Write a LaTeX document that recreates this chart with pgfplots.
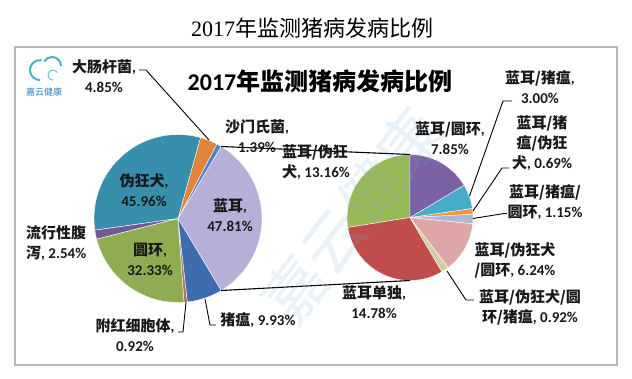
\documentclass[border=0pt]{standalone}
\usepackage{pgfplots}
\pgfplotsset{compat=1.18}
\usepackage{pgfplotstable}
\usepackage{fontspec}
\setmainfont{Carlito}
\newfontfamily\cjk{Noto Sans CJK SC}
\newfontfamily\sernum{Liberation Serif}

\definecolor{cLE}{RGB}{182,176,216}
\definecolor{cSM}{RGB}{85,130,195}
\definecolor{cDC}{RGB}{224,132,58}
\definecolor{cWK}{RGB}{56,143,172}
\definecolor{cLX}{RGB}{112,90,150}
\definecolor{cYH}{RGB}{143,172,82}
\definecolor{cFH}{RGB}{170,120,80}
\definecolor{cZW}{RGB}{63,108,175}
\definecolor{sRH}{RGB}{124,98,162}
\definecolor{sRZ}{RGB}{72,172,200}
\definecolor{sRZW}{RGB}{240,150,70}
\definecolor{sRZY}{RGB}{176,182,212}
\definecolor{sRWY}{RGB}{222,166,166}
\definecolor{sRWYZ}{RGB}{212,204,164}
\definecolor{sD}{RGB}{192,76,76}
\definecolor{sRW}{RGB}{152,186,86}
\definecolor{frame}{RGB}{185,185,185}
\definecolor{logo}{RGB}{70,178,190}
\definecolor{logotext}{RGB}{40,130,190}
\definecolor{wm}{RGB}{120,170,220}

% main pie (counter-clockwise from the lower edge of the "other" slice)
\pgfplotstableread{
val col
47.81 cLE
1.39 cSM
4.85 cDC
45.96 cWK
2.54 cLX
32.33 cYH
0.92 cFH
9.93 cZW
}\mainpie
% second pie: breakdown of 蓝耳 (counter-clockwise from top)
\pgfplotstableread{
val col
13.16 sRW
14.78 sD
0.92 sRWYZ
6.24 sRWY
1.15 sRZY
0.69 sRZW
3.00 sRZ
7.85 sRH
}\subpie

\newcommand\pieslices[5]{%
  \pgfplotstablegetrowsof{#1}\pgfmathtruncatemacro\nrows{\pgfplotsretval-1}%
  \def\tot{0}%
  \pgfplotsforeachungrouped \i in {0,...,\nrows}{\pgfplotstablegetelem{\i}{val}\of#1\pgfmathsetmacro\tot{\tot+\pgfplotsretval}}%
  \pgfplotstablegetelem{0}{val}\of#1\pgfmathsetmacro\ang{#5}%
  \pgfplotsforeachungrouped \i in {0,...,\nrows}{%
    \pgfplotstablegetelem{\i}{val}\of#1\let\sv\pgfplotsretval
    \pgfplotstablegetelem{\i}{col}\of#1\let\scol\pgfplotsretval
    \pgfmathsetmacro\angb{\ang+\sv/\tot*360}%
    \edef\doit{\noexpand\addplot[fill=\scol, draw=white, line width=0.4pt, domain=\ang:\angb, samples=40] ({#2+#4*cos(x)},{#3-#4*sin(x)}) -- (axis cs:#2,#3) -- cycle;}%
    \doit
    \let\ang\angb}%
}
\newcommand\C[1]{{\cjk #1}}

\begin{document}
\begin{tikzpicture}
\fill[white] (0,0) rectangle (632pt,378pt);
\begin{axis}[scale only axis, width=632pt, height=378pt,
  xmin=0, xmax=632, ymin=0, ymax=378, y dir=reverse,
  hide axis, clip=false]
% frame
\draw[frame, line width=1.3pt] (axis cs:15,47) rectangle (axis cs:617,365);
% pies
\pieslices{\mainpie}{178}{218.5}{84}{-\pgfplotsretval/\tot*180}
\pieslices{\subpie}{410}{217.5}{63}{90}
% connectors
\draw[black, line width=1.1pt] (axis cs:221.2,146.5) -- (axis cs:410,154.5);
\draw[black, line width=1.1pt] (axis cs:221.2,290.5) -- (axis cs:410,280.5);
% leader lines
\begin{scope}[black, line width=0.9pt]
\draw (axis cs:139,70) -- (axis cs:146,70) -- (axis cs:209,140);
\draw (axis cs:186,302) -- (axis cs:183,332) -- (axis cs:178,332);
\draw (axis cs:205,299) -- (axis cs:210,325) -- (axis cs:216,325);
\draw (axis cs:469.5,196) -- (axis cs:503,101) -- (axis cs:512,101);
\draw (axis cs:473,211) -- (axis cs:502,168) -- (axis cs:509,168);
\draw (axis cs:473,218.5) -- (axis cs:504,213.5) -- (axis cs:507,213.5);
\draw (axis cs:447,271) -- (axis cs:466,300) -- (axis cs:474,300);
\end{scope}
% watermark
\node[wm, opacity=0.16, rotate=52, font=\fontsize{62}{64}\selectfont, inner sep=0] at (axis cs:352,216) {\C{嘉云健康}};
% titles
\node[font=\fontsize{22}{24}\selectfont, inner sep=0] at (axis cs:312,28) {{\sernum 2017}\C{年监测猪病发病比例}};
\node[font=\bfseries\fontsize{24}{26}\selectfont, inner sep=0] at (axis cs:320,81) {2017\C{年监测猪病发病比例}};
% labels
\begin{scope}[every node/.style={align=center, font=\bfseries\fontsize{15}{20}\selectfont, text=black!90, inner sep=0}]
\node at (axis cs:104,76) {\C{大肠杆菌},\\4.85\%};
\node at (axis cs:257,136) {\C{沙门氏菌},\\1.39\%};
\node at (axis cs:144,190) {\C{伪狂犬},\\45.96\%};
\node at (axis cs:230,215) {\C{蓝耳},\\47.81\%};
\node at (axis cs:150,259) {\C{圆环},\\32.33\%};
\node[anchor=west, align=left] at (axis cs:26,243) {\C{流行性腹}\\\C{泻}, 2.54\%};
\node at (axis cs:135,335) {\C{附红细胞体},\\0.92\%};
\node at (axis cs:258,320) {\C{猪瘟}, 9.93\%};
\node[anchor=west, align=left] at (axis cs:282,162) {\C{蓝耳/伪狂}\\\C{犬}, 13.16\%};
\node at (axis cs:450,138) {\C{蓝耳/圆环},\\7.85\%};
\node at (axis cs:540,87) {\C{蓝耳/猪瘟},\\3.00\%};
\node at (axis cs:542,143) {\C{蓝耳/猪}\\\C{瘟/伪狂}\\\C{犬}, 0.69\%};
\node at (axis cs:545,202) {\C{蓝耳/猪瘟/}\\\C{圆环}, 1.15\%};
\node at (axis cs:515,260) {\C{蓝耳/伪狂犬}\\\C{/圆环}, 6.24\%};
\node at (axis cs:530,307) {\C{蓝耳/伪狂犬/圆}\\\C{环/猪瘟}, 0.92\%};
\node at (axis cs:374,302) {\C{蓝耳单独},\\14.78\%};
\end{scope}
% logo
\draw[logo, line width=2pt] (axis cs:41.7,60.2) arc[start angle=80, end angle=270, radius=10pt];
\draw[logo, line width=2pt] (axis cs:61,66) arc[start angle=0, end angle=150, radius=9pt];
\draw[logo!70, line width=1.2pt] (axis cs:57.3,72.5) arc[start angle=30, end angle=270, radius=5pt];
\node[logotext, font=\fontsize{9}{10}\selectfont, inner sep=0] at (axis cs:44,92) {\C{嘉云健康}};
\end{axis}
\end{tikzpicture}
\end{document}
